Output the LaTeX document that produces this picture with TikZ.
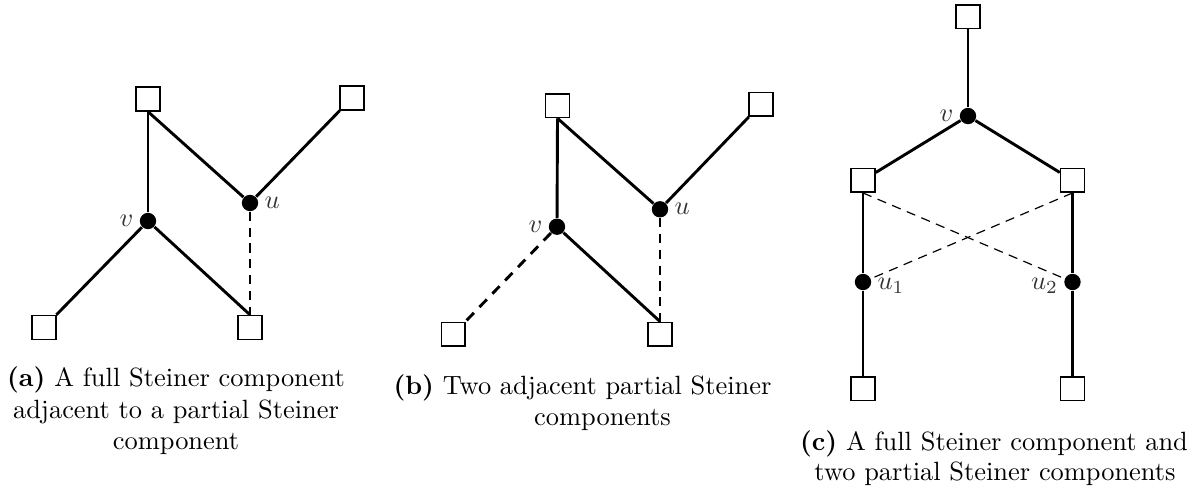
\documentclass[tikz,border=0pt]{standalone}
\usetikzlibrary{backgrounds}
\begin{document}
\begin{tikzpicture}[x=0.3788pt,y=-0.3788pt,
  term/.style={draw, line width=0.6pt, fill=white, minimum size=9pt, inner sep=0pt},
  dot/.style={circle, fill=black, minimum size=6.2pt, inner sep=0pt},
  lab/.style={inner sep=2pt, text=black!80},
  edge/.style={line width=1.1pt},
  thin dash/.style={line width=0.45pt, dash pattern=on 3.5pt off 2.5pt},
  thick dash/.style={line width=1.1pt, dash pattern=on 4pt off 3pt},
  captxt/.style={anchor=base, inner sep=0pt}]
\useasboundingbox (0,0) rectangle (1201,489);

% ---------- (a) ----------
\node[term] (At)  at (148,99) {};
\node[term] (Atr) at (352,98) {};
\node[term] (Abl) at (44,327.5) {};
\node[term] (Abm) at (250,327.5) {};
\node[dot, label={[lab]right:$u$}] (Au) at (250,203) {};
\node[dot, label={[lab]left:$v$}] (Av) at (148,221) {};
\begin{scope}[on background layer]
\draw[edge] (At.south) -- (Av);
\draw[edge] (At.south) -- (Au);
\draw[edge] (Atr) -- (Au);
\draw[edge] (Av) -- (Abl);
\draw[edge] (Av) -- (Abm.north);
\draw[thin dash] (Au) -- (Abm.north);
\end{scope}
\node[captxt] (Acap1) at (176,386.5) {\textbf{(a)} A full Steiner component};
\node[captxt] (Acap2) at (176,418) {adjacent to a partial Steiner};
\node[captxt] (Acap3) at (176,449.5) {component};

% ---------- (b) ----------
\node[term] (Bt)  at (557.5,105.7) {};
\node[term] (Btr) at (761,104.3) {};
\node[term] (Bbl) at (453.3,334.2) {};
\node[term] (Bbm) at (660,334.2) {};
\node[dot, label={[lab]right:$u$}] (Bu) at (660,209.3) {};
\node[dot, label={[lab]left:$v$}] (Bv) at (557,226.7) {};
\begin{scope}[on background layer]
\draw[edge] (Bt.south) -- (Bv);
\draw[edge] (Bt.south) -- (Bu);
\draw[edge] (Btr) -- (Bu);
\draw[thick dash] (Bv) -- (Bbl);
\draw[edge] (Bv) -- (Bbm.north);
\draw[thin dash] (Bu) -- (Bbm.north);
\end{scope}
\node[captxt] (Bcap1) at (582.5,394) {\textbf{(b)} Two adjacent partial Steiner};
\node[captxt] (Bcap2) at (602.5,425.5) {components};

% ---------- (c) ----------
\node[term] (Ct)  at (968,16.7) {};
\node[term] (Cl)  at (863,180.3) {};
\node[term] (Cr)  at (1072.5,180.3) {};
\node[term] (Cbl) at (863,388.7) {};
\node[term] (Cbr) at (1072.5,388.7) {};
\node[dot, label={[lab]left:$v$}] (Cv) at (968,116) {};
\node[dot, label={[lab,yshift=-1.5pt]right:$u_1$}] (Cu1) at (863,282) {};
\node[dot, label={[lab,yshift=-1.5pt]left:$u_2$}] (Cu2) at (1072.5,282) {};
\begin{scope}[on background layer]
\draw[edge] (Ct) -- (Cv);
\draw[edge] (Cv) -- (Cl);
\draw[edge] (Cv) -- (Cr);
\draw[edge] (Cl) -- (Cu1) -- (Cbl);
\draw[edge] (Cr) -- (Cu2) -- (Cbr);
\draw[thin dash] (Cl.south) -- (Cu2);
\draw[thin dash] (Cr.south) -- (Cu1);
\end{scope}
\node[captxt] (Ccap1) at (994,450) {\textbf{(c)} A full Steiner component and};
\node[captxt] (Ccap2) at (995,480) {two partial Steiner components};
\end{tikzpicture}
\end{document}
